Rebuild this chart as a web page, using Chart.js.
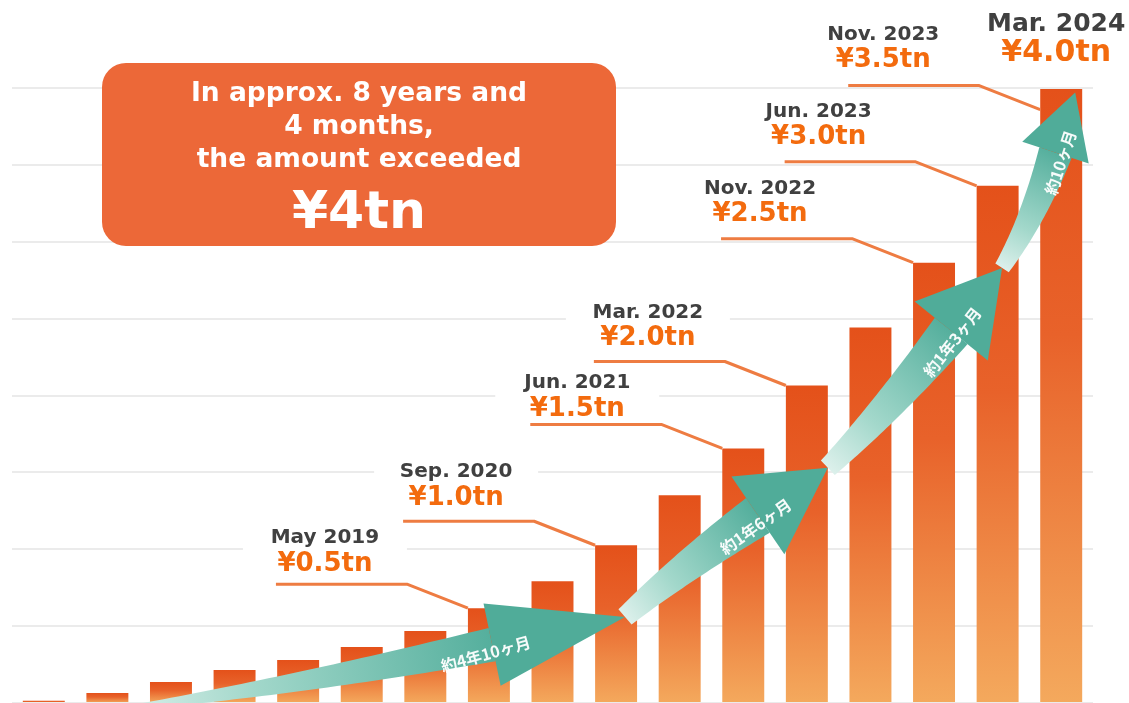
<!DOCTYPE html>
<html>
<head>
<meta charset="utf-8">
<script src="https://cdn.jsdelivr.net/npm/chart.js@4.4.1/dist/chart.umd.min.js"></script>
<style>
html,body{margin:0;padding:0;background:#fff;}
#wrap{width:1129px;height:703px;position:relative;}
</style>
</head>
<body>
<div id="wrap"><canvas id="c" width="1129" height="703"></canvas></div>
<script>
// bars (trillion yen)
const categories = ['1','2','3','4','5','6','7','8','9','10','11','12','13','14','15','16','17'];
const balance = [0.015,0.065,0.136,0.214,0.279,0.364,0.468,0.617,0.792,1.026,1.351,1.656,2.065,2.442,2.864,3.364,3.994];
const yTicks = [0,0.5,1,1.5,2,2.5,3,3.5,4];

// milestone call-outs
const milestoneDates   = ['May 2019','Sep. 2020','Jun. 2021','Mar. 2022','Nov. 2022','Jun. 2023','Nov. 2023','Mar. 2024'];
const milestoneAmounts = ['¥0.5tn','¥1.0tn','¥1.5tn','¥2.0tn','¥2.5tn','¥3.0tn','¥3.5tn','¥4.0tn'];
const milestoneBars    = [7,9,11,12,14,15,16,16];
const milestoneHits    = [0.617,1.026,1.656,2.065,2.864,3.364,3.86,null];

// growth arrow, in (bar index, value)
const arrowStart = [1.2,-0.04];
const arrowBases = [[7.05,0.38],[11.23,1.22],[14.27,2.42],[15.91,3.58]];
const arrowTips  = [[9.14,0.56],[12.33,1.53],[15.07,2.83],[16.22,3.97]];
const arrowTexts = ['約4年10ヶ月','約1年6ヶ月','約1年3ヶ月','約10ヶ月'];

const boxLines = ['In approx. 8 years and','4 months,','the amount exceeded'];
const boxHeadline = '¥4tn';

// layout, px
const labelPos = [[-143,-65],[-139,-68],[-145,-60],[-138,-68],[-153,-69],[-158,-69],[-157,-70],[16,-58]];
const arrowStyle = [
  {w0:2,w1:17,h:42,tilt:-4},{w0:10,w1:21,h:47,tilt:-1},
  {w0:10,w1:21,h:47,tilt:-1},{w0:8,w1:17,h:35,tilt:0}
];
const FONT = '"DejaVu Sans", Verdana, sans-serif';

function barGradient(ctx) {
  const chart = ctx.chart;
  if (!chart.chartArea || ctx.raw == null) return '#e8581e';
  const y = chart.scales.y;
  const top = y.getPixelForValue(ctx.raw), base = y.getPixelForValue(0);
  const g = chart.ctx.createLinearGradient(0, top, 0, Math.max(base, top+1));
  g.addColorStop(0, '#e4511a');
  g.addColorStop(0.4, '#e8622a');
  g.addColorStop(1, '#f4a95d');
  return g;
}

function drawArrow(c, T, B, P, st, text) {
  let ux = P.x-B.x, uy = P.y-B.y;
  const len = Math.hypot(ux,uy); ux/=len; uy/=len;
  const pull = 0.55*Math.hypot(B.x-T.x, B.y-T.y);
  const C = {x:B.x-ux*pull, y:B.y-uy*pull};
  const left=[], right=[], N=40;
  for (let i=0;i<=N;i++) {
    const t=i/N, m=1-t;
    const px = m*m*T.x+2*m*t*C.x+t*t*B.x, py = m*m*T.y+2*m*t*C.y+t*t*B.y;
    let dx = 2*m*(C.x-T.x)+2*t*(B.x-C.x), dy = 2*m*(C.y-T.y)+2*t*(B.y-C.y);
    const l = Math.hypot(dx,dy); dx/=l; dy/=l;
    const w = st.w0+(st.w1-st.w0)*t;
    left.push([px-dy*w, py+dx*w]); right.push([px+dy*w, py-dx*w]);
  }
  const g = c.createLinearGradient(T.x,T.y,B.x,B.y);
  g.addColorStop(0,'#dcf0eb'); g.addColorStop(0.35,'#a3d8cb'); g.addColorStop(1,'#55af9d');
  c.beginPath();
  left.forEach((p,i)=> i ? c.lineTo(p[0],p[1]) : c.moveTo(p[0],p[1]));
  right.reverse().forEach(p=>c.lineTo(p[0],p[1]));
  c.closePath(); c.fillStyle=g; c.fill();
  // head
  c.beginPath();
  c.moveTo(B.x-uy*st.h, B.y+ux*st.h);
  c.lineTo(P.x,P.y);
  c.lineTo(B.x+uy*st.h, B.y-ux*st.h);
  c.closePath(); c.fillStyle='#50ac99'; c.fill();
  // label
  const cx = B.x-8*ux-8*uy, cy = B.y-8*uy+8*ux;
  c.save();
  c.translate(cx,cy);
  c.rotate(Math.atan2(uy,ux)+st.tilt*Math.PI/180);
  c.fillStyle='rgba(255,255,255,0.95)';
  c.font='bold 16px "Noto Sans CJK JP", sans-serif';
  c.textAlign='center'; c.textBaseline='middle';
  c.fillText(text,0,0);
  c.restore();
}

const overlay = {
  id:'overlay',
  afterDatasetsDraw(chart) {
    const c = chart.ctx, xs = chart.scales.x, ys = chart.scales.y;
    const bars = chart.getDatasetMeta(0).data;
    c.save();
    // call-outs
    milestoneDates.forEach((d,i)=>{
      const bar = bars[milestoneBars[i]];
      const ax = bar.x-bar.width/2;
      const last = milestoneHits[i]==null;
      const ay = last ? bar.y : ys.getPixelForValue(milestoneHits[i]);
      const lx = ax+labelPos[i][0], ly = ay+labelPos[i][1];
      if (!last) {
        c.fillStyle='#fff';
        c.fillRect(lx-82, ly-24, 164, 58);
        c.strokeStyle='#ee7c42'; c.lineWidth=3; c.lineJoin='round';
        c.beginPath();
        c.moveTo(ax-192, ay-24); c.lineTo(ax-61, ay-24); c.lineTo(ax, ay);
        c.stroke();
      }
      c.textAlign='center'; c.textBaseline='alphabetic';
      c.fillStyle='#404040';
      c.font = (last?'bold 25px ':'bold 20px ')+FONT;
      c.fillText(d, lx, ly);
      c.fillStyle='#f36b0e';
      c.font = (last?'bold 30px ':'bold 26px ')+FONT;
      c.fillText(milestoneAmounts[i], lx, ly+(last?30:27.5));
    });
    // arrow segments
    const pt = a => ({x:xs.getPixelForValue(a[0]), y:ys.getPixelForValue(a[1])});
    let tail = pt(arrowStart);
    arrowBases.forEach((b,i)=>{
      const B = pt(b), P = pt(arrowTips[i]);
      drawArrow(c, tail, B, P, arrowStyle[i], arrowTexts[i]);
      tail = P;
    });
    // headline box
    c.fillStyle='#ec6838';
    c.beginPath(); c.roundRect(102,63,514,183,24); c.fill();
    c.fillStyle='#fff'; c.textAlign='center';
    c.font='bold 26.5px '+FONT;
    [101,134,167].forEach((yy,i)=>c.fillText(boxLines[i],359,yy));
    c.font='bold 52px '+FONT;
    c.fillText(boxHeadline,359,228);
    c.restore();
  }
};

new Chart(document.getElementById('c'), {
  type:'bar',
  data:{ labels:categories, datasets:[{ data:balance, backgroundColor:barGradient, borderWidth:0,
    barPercentage:0.66, categoryPercentage:1 }] },
  options:{
    responsive:false, animation:false,
    layout:{ padding:{left:12,right:36,top:88,bottom:0} },
    plugins:{ legend:{display:false}, tooltip:{enabled:false} },
    scales:{
      x:{ display:false },
      y:{ min:0, max:4, afterBuildTicks:s=>{ s.ticks = yTicks.map(v=>({value:v})); },
        ticks:{display:false}, border:{display:false},
        grid:{ color:'#ebebeb', lineWidth:2, drawTicks:false } }
    }
  },
  plugins:[overlay]
});
</script>
</body>
</html>
